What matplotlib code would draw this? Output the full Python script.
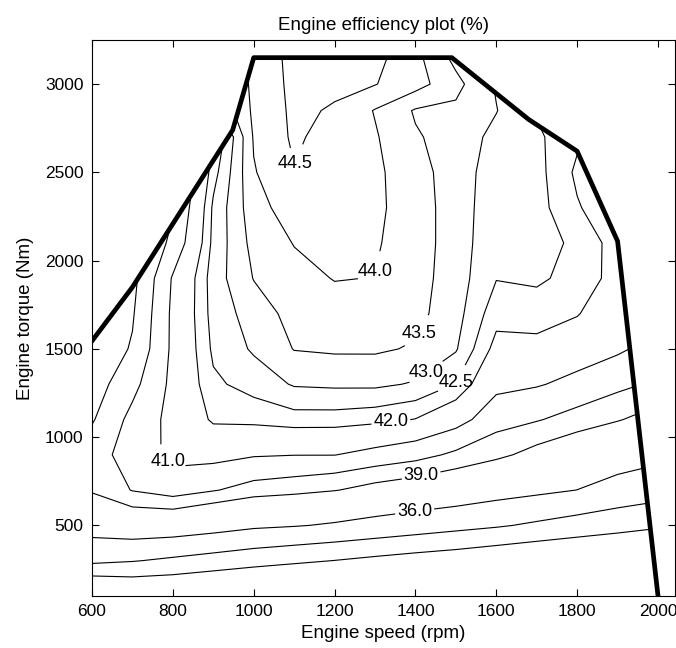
import numpy as np
import matplotlib.pyplot as plt
from matplotlib.patches import Polygon

plt.rcParams['font.family'] = ['Liberation Sans', 'DejaVu Sans']

# engine map grid (rpm, Nm)
speed = [600, 700, 800, 900, 1000, 1100, 1200, 1300, 1400, 1500, 1600, 1700, 1800, 1900, 2000]
torque = [100, 300, 500, 700, 900, 1100, 1300, 1500, 1700, 1900, 2100, 2300, 2500, 2700, 2850, 3000, 3150, 3300]

# efficiency in %, one row per torque value
efficiency = [
    [25.2, 26.3, 26.2, 25.5, 24.7, 24.2, 23.9, 23.1, 22.7, 22.3, 21.6, 21.3, 21.3, 21.3, 21.0],
    [33.66, 33.15, 32.5, 31.83, 31.16, 30.54, 29.95, 29.3, 28.7, 28.2, 27.5, 26.9, 26.5, 26.2, 25.7],
    [37.22, 37.85, 37.73, 37.16, 36.47, 36.16, 35.73, 35.15, 34.54, 33.9, 33.31, 32.55, 31.75, 31.05, 30.4],
    [39.15, 40.05, 40.5, 40.07, 39.6, 39.38, 39.06, 38.56, 38.2, 37.78, 37.1, 36.57, 35.98, 34.98, 34.26],
    [39.6, 40.4, 41.25, 41.3, 41.08, 41.02, 41.02, 40.7, 40.37, 39.8, 39.29, 38.58, 37.9, 37.28, 36.67],
    [38.9, 40.3, 41.3, 42.1, 42.16, 42.29, 42.28, 42.18, 41.98, 41.4, 40.4, 40.08, 39.6, 39.09, 38.46],
    [38.5, 39.7, 41.25, 42.4, 42.7, 43.05, 43.09, 43.1, 42.95, 42.48, 41.25, 41.08, 40.74, 40.27, 39.82],
    [38.2, 39.1, 41.2, 42.6, 43.07, 43.52, 43.57, 43.57, 43.45, 43.05, 41.8, 41.85, 41.45, 41.15, 40.63],
    [38.0, 38.9, 41.2, 42.7, 43.23, 43.68, 43.79, 43.76, 43.65, 43.2, 42.2, 42.2, 42.05, 41.4, 41.1],
    [37.8, 38.7, 41.1, 42.75, 43.52, 43.84, 44.02, 43.99, 43.7, 43.25, 42.52, 42.6, 42.3, 41.8, 41.3],
    [37.6, 38.5, 40.3, 42.65, 43.67, 44.02, 44.1, 44.05, 43.75, 43.25, 42.65, 42.7, 42.4, 41.75, 41.4],
    [37.6, 38.3, 39.9, 42.6, 43.81, 44.25, 44.2, 44.1, 43.75, 43.25, 42.7, 42.7, 42.05, 41.6, 41.3],
    [37.6, 38.3, 39.6, 42.3, 43.96, 44.48, 44.25, 44.1, 43.7, 43.25, 42.75, 42.68, 41.9, 41.5, 41.3],
    [37.6, 38.3, 39.3, 41.95, 44.05, 44.58, 44.3, 44.05, 43.55, 43.3, 42.85, 42.6, 42.1, 41.5, 41.3],
    [37.6, 38.3, 39.0, 42.9, 44.1, 44.6, 44.45, 43.97, 43.45, 43.4, 43.02, 42.45, 42.1, 41.5, 41.3],
    [37.6, 38.3, 39.0, 43.2, 44.12, 44.63, 44.6, 44.52, 44.2, 43.65, 42.95, 42.45, 42.1, 41.5, 41.3],
    [37.6, 38.3, 39.0, 43.3, 44.15, 44.65, 44.65, 44.65, 44.15, 43.35, 42.95, 42.45, 42.1, 41.5, 41.3],
    [37.6, 38.3, 39.0, 43.3, 44.1, 44.6, 44.6, 44.6, 44.1, 43.35, 42.95, 42.45, 42.1, 41.5, 41.3],
]

plain_levels = [30, 33, 40]
label_levels = [36, 39, 41, 42, 42.5, 43, 43.5, 44, 44.5]
label_pos = [(1400, 545), (1416, 760), (795, 880), (1340, 1070), (1510, 1290),
             (1440, 1320), (1440, 1550), (1320, 1930), (1125, 2530)]

# max torque curve
max_speed = [600, 700, 948, 1000, 1490, 1680, 1800, 1900, 2000]
max_torque = [1545, 1850, 2740, 3150, 3150, 2800, 2620, 2110, 100]

fig = plt.figure(figsize=(6.76, 6.48), dpi=100)
ax = fig.add_axes([92 / 676, 52 / 648, 583 / 676, 556 / 648])

# only show the map below the max torque line
region = Polygon(list(zip(max_speed, max_torque)) + [(2000, 0), (550, 0), (550, 1545)],
                 closed=True, fill=False, edgecolor='none', transform=ax.transData)
ax.add_patch(region)

Z = np.array(efficiency)
cs = ax.contour(speed, torque, Z, levels=plain_levels, colors='k', linewidths=0.8)
cs.set_clip_path(region)

for lev, pos in zip(label_levels, label_pos):
    c = ax.contour(speed, torque, Z, levels=[lev], colors='k', linewidths=0.8)
    txt = ax.clabel(c, manual=[pos], fmt='%.1f', fontsize=13, inline=True, inline_spacing=1)
    for t in txt:
        t.set_rotation(0)
    c.set_clip_path(region)

ax.plot(max_speed, max_torque, color='k', linewidth=3.4)

ax.set_xlim(600, 2042)
ax.set_ylim(100, 3250)
ax.set_xticks(range(600, 2001, 200))
ax.set_yticks(range(500, 3001, 500))
ax.tick_params(direction='in', top=True, right=True, length=5, pad=6, labelsize=12.5)
ax.set_xlabel('Engine speed (rpm)', fontsize=13.5, labelpad=4)
ax.set_ylabel('Engine torque (Nm)', fontsize=13.5, labelpad=8)
ax.set_title('Engine efficiency plot (%)', fontsize=13.5, pad=7)

fig.savefig('out.png', dpi=100)
